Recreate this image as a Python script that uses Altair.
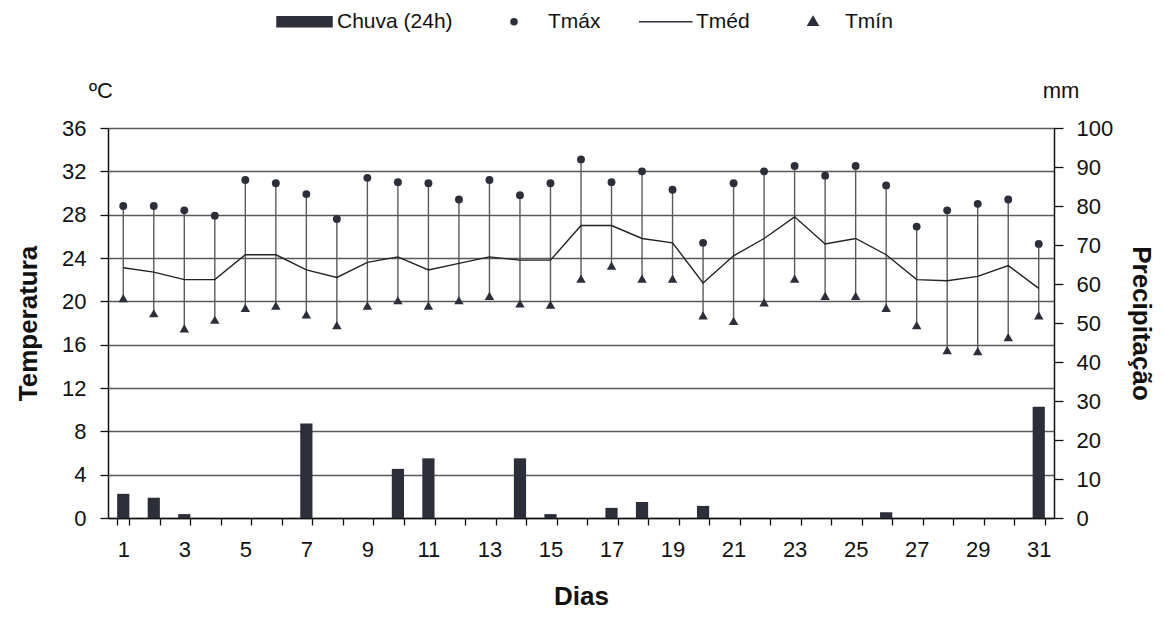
import altair as alt
import pandas as pd

# ---------------- data ----------------
dias = list(range(1, 32))
chuva = [6.2, 5.2, 1.0, 0, 0, 0, 24.2, 0, 0, 12.6, 15.3, 0, 0, 15.3, 1.0, 0,
         2.6, 4.1, 0, 3.1, 0, 0, 0, 0, 0, 1.5, 0, 0, 0, 0, 28.5]
tmax = [28.8, 28.8, 28.4, 27.9, 31.2, 30.9, 29.9, 27.6, 31.4, 31.0, 30.9, 29.4,
        31.2, 29.8, 30.9, 33.1, 31.0, 32.0, 30.3, 25.4, 30.9, 32.0, 32.5, 31.6,
        32.5, 30.7, 26.9, 28.4, 29.0, 29.4, 25.3]
tmed = [23.1, 22.7, 22.0, 22.0, 24.3, 24.3, 22.9, 22.2, 23.6, 24.1, 22.9, 23.5,
        24.1, 23.8, 23.8, 27.0, 27.0, 25.8, 25.4, 21.7, 24.2, 25.8, 27.8, 25.3,
        25.8, 24.3, 22.0, 21.9, 22.3, 23.3, 21.2]
tmin = [20.3, 18.9, 17.5, 18.3, 19.4, 19.6, 18.8, 17.8, 19.6, 20.1, 19.6, 20.1,
        20.5, 19.8, 19.7, 22.1, 23.3, 22.1, 22.1, 18.7, 18.2, 19.9, 22.1, 20.5,
        20.5, 19.4, 17.8, 15.5, 15.4, 16.7, 18.7]
serie_nomes = ["Chuva (24h)", "Tmáx", "Tméd", "Tmín"]
temp_ticks = list(range(0, 37, 4))
chuva_ticks = list(range(0, 101, 10))
unidades = ["ºC", "mm"]

# ---------------- styling ----------------
W, H = 946, 390
FONT = "Liberation Sans"
INK = "#2c2e3a"
GRID = "#5a5a5a"

df = pd.DataFrame({"dia": dias, "chuva": chuva, "tmax": tmax, "tmed": tmed, "tmin": tmin})
base = alt.Chart(df)

x_enc = alt.X(
    "dia:O",
    scale=alt.Scale(paddingInner=0.6, paddingOuter=0.3),
    axis=alt.Axis(
        title="Dias",
        labelExpr="datum.value % 2 == 1 ? datum.label : ''",
        tickBand="extent",
        labelAngle=0,
        tickSize=7,
        labelPadding=14,
        titlePadding=23,
        grid=False,
    ),
)

t_scale = alt.Scale(domain=[0, 36])
t_axis = alt.Axis(
    orient="left", values=temp_ticks, grid=True, title="Temperatura",
    tickSize=8, labelPadding=14, titlePadding=20,
)

# precipitation bars (right axis)
bars = base.mark_bar(color=INK).encode(
    x=x_enc,
    y=alt.Y(
        "chuva:Q",
        scale=alt.Scale(domain=[0, 100]),
        axis=alt.Axis(orient="right", values=chuva_ticks, grid=False,
                      title="Precipitação", tickSize=9, labelPadding=13,
                      titlePadding=15),
    ),
)
mm_text = alt.Chart(pd.DataFrame({"u": [unidades[1]]})).mark_text(
    font=FONT, fontSize=22, align="center", baseline="middle", dx=7, dy=-37, color="#111"
).encode(x=alt.value(W), y=alt.value(0), text="u:N")

precip = alt.layer(bars, mm_text)

# temperatures (left axis)
rules = base.mark_rule(color="#5a5a5a", strokeWidth=1.4).encode(
    x=x_enc, y=alt.Y("tmin:Q", scale=t_scale, axis=t_axis), y2="tmax:Q"
)
line = base.mark_line(color="#222", strokeWidth=1.4).encode(
    x=x_enc, y=alt.Y("tmed:Q", scale=t_scale, axis=t_axis)
)
pmax = base.mark_point(filled=True, shape="circle", size=62, opacity=1, color=INK).encode(
    x=x_enc, y=alt.Y("tmax:Q", scale=t_scale, axis=t_axis)
)
pmin = base.mark_point(filled=True, shape="triangle-up", size=90, opacity=1, color=INK).encode(
    x=x_enc, y=alt.Y("tmin:Q", scale=t_scale, axis=t_axis)
)
c_text = alt.Chart(pd.DataFrame({"u": [unidades[0]]})).mark_text(
    font=FONT, fontSize=22, align="center", baseline="middle", dx=-7, dy=-37, color="#111"
).encode(x=alt.value(0), y=alt.value(0), text="u:N")

# legend (symbols drawn as custom paths in pixel units, symbolSize 4 -> scale 1)
leg_paths = [
    "M0.5,-5 L55.5,-5 L55.5,5 L0.5,5 Z",
    "M23.5,0 A3,3 0 1,0 29.5,0 A3,3 0 1,0 23.5,0 Z",
    "M3.5,0 L57,0",
    "M28.5,-5 L33.5,3.5 L23.5,3.5 Z",
]
legend_layer = alt.Chart(pd.DataFrame({"serie": serie_nomes})).transform_filter("false").mark_point(
    filled=True, opacity=1, fill=INK, stroke=INK, strokeWidth=1.1
).encode(
    shape=alt.Shape(
        "serie:N",
        scale=alt.Scale(domain=serie_nomes, range=leg_paths),
        legend=alt.Legend(
            title=None, orient="none", legendX=158, legendY=-117,
            direction="horizontal", columns=4, columnPadding=24,
            symbolSize=4, labelOffset=50, labelFont=FONT, labelFontSize=21,
            labelColor="#111", padding=0, labelLimit=300,
        ),
    )
)

temps = alt.layer(rules, line, pmax, pmin, c_text, legend_layer)

chart = (
    alt.layer(precip, temps)
    .resolve_scale(y="independent")
    .properties(
        width=W, height=H,
        autosize=alt.AutoSizeParams(type="none"),
        padding={"left": 100, "top": 120, "right": 102, "bottom": 92},
    )
    .configure_view(stroke=None)
    .configure_axis(
        labelFont=FONT, labelFontSize=22, labelColor="#111",
        titleFont=FONT, titleFontSize=26, titleFontWeight="bold", titleColor="#111",
        domainColor="#111", domainWidth=1.5, tickColor="#111", tickWidth=1.3,
        gridColor=GRID, gridWidth=1.4,
    )
    .configure_legend(labelFont=FONT)
)

chart.save("out.html", embed_options={"renderer": "svg", "actions": False})
